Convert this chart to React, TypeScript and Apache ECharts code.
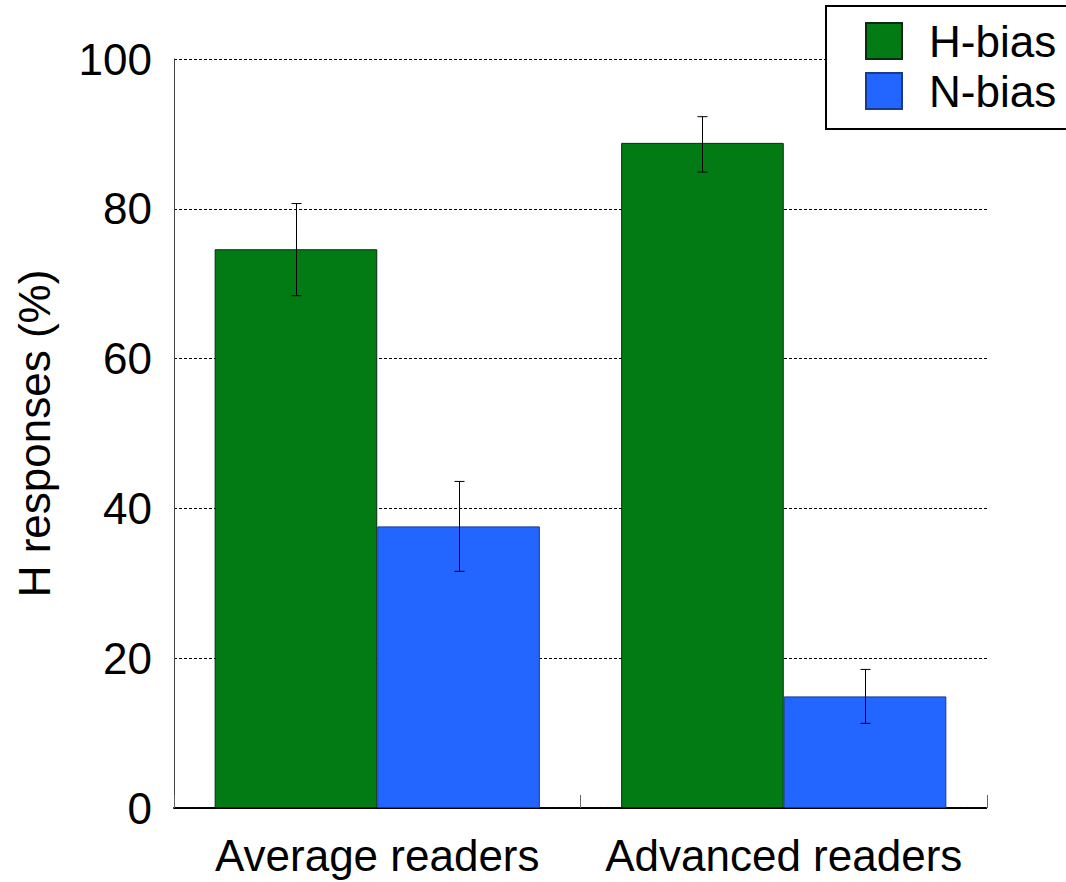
import React, { useEffect, useRef } from "react";
import * as echarts from "echarts";

const categories = ["Average readers", "Advanced readers"];
const seriesNames = ["H-bias", "N-bias"];
const hBias = [74.6, 88.8];
const nBias = [37.6, 14.9];
const hBiasLow = [68.4, 84.9];
const hBiasHigh = [80.7, 92.3];
const nBiasLow = [31.6, 11.3];
const nBiasHigh = [43.6, 18.5];
const yTicks = [0, 20, 40, 60, 80, 100];

const FONT = "Liberation Sans, Arial, Helvetica, sans-serif";

function errorSeries(low: number[], high: number[], offset: number) {
  return {
    type: "custom",
    z: 10,
    silent: true,
    data: low.map((l, i) => [i, l, high[i]]),
    encode: { x: 0, y: [1, 2] },
    renderItem: (params: any, api: any) => {
      const idx = api.value(0);
      const lo = api.coord([idx, api.value(1)]);
      const hi = api.coord([idx, api.value(2)]);
      const band = api.size([1, 0])[0];
      const cx = Math.round(lo[0] + offset * band) + 0.5;
      const hw = 5;
      const style = { stroke: "#000", lineWidth: 1 };
      return {
        type: "group",
        children: [
          { type: "line", shape: { x1: cx, y1: lo[1], x2: cx, y2: hi[1] }, style },
          { type: "line", shape: { x1: cx - hw, y1: lo[1], x2: cx + hw, y2: lo[1] }, style },
          { type: "line", shape: { x1: cx - hw, y1: hi[1], x2: cx + hw, y2: hi[1] }, style },
        ],
      };
    },
  };
}

export default function App() {
  const ref = useRef<HTMLDivElement>(null);
  useEffect(() => {
    if (!ref.current) return;
    const chart = echarts.init(ref.current, undefined, { renderer: "svg" });
    chart.setOption({
      animation: false,
      backgroundColor: "#fff",
      textStyle: { fontFamily: FONT },
      grid: { left: 174, top: 59, right: 79, bottom: 74, containLabel: false },
      legend: {
        data: seriesNames,
        orient: "vertical",
        left: 826,
        top: 6,
        padding: [13, 30, 16, 39],
        itemGap: 6,
        itemWidth: 36,
        itemHeight: 36,
        icon: "rect",
        borderColor: "#000",
        borderWidth: 2,
        backgroundColor: "#fff",
        textStyle: {
          fontSize: 44,
          fontFamily: FONT,
          color: "#000",
          padding: [0, 0, 0, 22],
        },
      },
      xAxis: {
        type: "category",
        data: categories,
        axisLine: { lineStyle: { color: "#000", width: 2, type: [2, 1] } },
        axisTick: { show: true, inside: true, length: 13, interval: 0, lineStyle: { color: "#666" } },
        axisLabel: { fontSize: 44, color: "#000", margin: 25, interval: 0, fontFamily: FONT },
        splitLine: { show: false },
      },
      yAxis: {
        type: "value",
        min: 0,
        max: 100,
        interval: 20,
        name: "H responses (%)",
        nameLocation: "middle",
        nameGap: 118,
        nameRotate: 90,
        nameTextStyle: { fontSize: 44, color: "#000", fontFamily: FONT },
        axisLine: { show: true, lineStyle: { color: "#444", width: 1 } },
        axisTick: { show: false },
        axisLabel: {
          fontSize: 44,
          color: "#000",
          margin: 22,
          fontFamily: FONT,
          formatter: (v: number) => (yTicks.includes(v) ? String(v) : ""),
        },
        splitLine: { show: true, lineStyle: { color: "#000", type: [3, 2], width: 1 } },
      },
      series: [
        {
          name: seriesNames[0],
          type: "bar",
          data: hBias,
          barGap: "0%",
          barCategoryGap: "20%",
          itemStyle: { color: "#037b15", borderColor: "#0b2a10", borderWidth: 1 },
        },
        {
          name: seriesNames[1],
          type: "bar",
          data: nBias,
          barGap: "0%",
          barCategoryGap: "20%",
          itemStyle: { color: "#2266ff", borderColor: "#1a3a90", borderWidth: 1 },
        },
        errorSeries(hBiasLow, hBiasHigh, -0.2),
        errorSeries(nBiasLow, nBiasHigh, 0.2),
      ],
    });
    return () => chart.dispose();
  }, []);
  return (
    <div
      ref={ref}
      style={{ position: "fixed", left: 0, top: 0, width: 1066, height: 882 }}
    />
  );
}
